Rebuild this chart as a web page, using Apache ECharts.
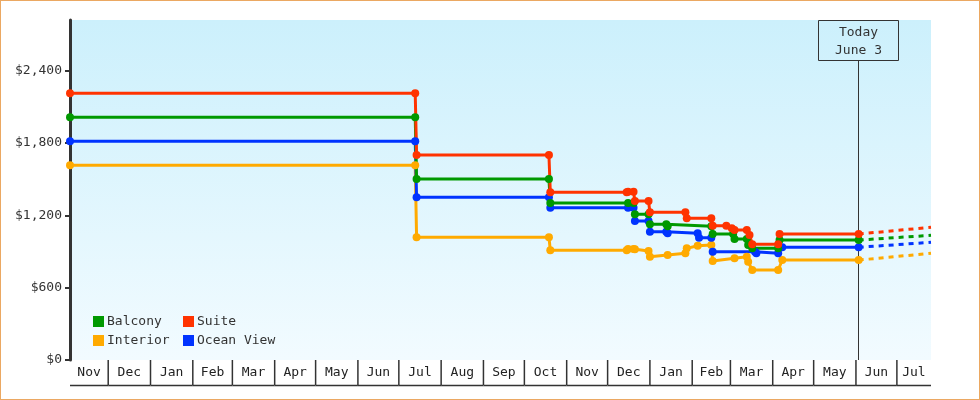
<!DOCTYPE html>
<html><head><meta charset="utf-8">
<script src="https://cdn.jsdelivr.net/npm/echarts@6/dist/echarts.min.js"></script>
<style>
html,body{margin:0;padding:0;background:#fff;}
#wrap{position:relative;width:980px;height:400px;}
#chart{width:980px;height:400px;}
#frame{position:absolute;left:0;top:0;width:980px;height:400px;box-sizing:border-box;border:1px solid #eba862;pointer-events:none;}
</style></head><body>
<div id="wrap"><div id="chart"></div><div id="frame"></div></div>
<script>
// ---------- data ----------
const axisStart = '2011-11-03';
const axisEnd = '2013-07-26';
const todayDate = '2013-06-03';
const todayLabel = 'Today\nJune 3';
const monthLabels = ['Nov','Dec','Jan','Feb','Mar','Apr','May','Jun','Jul','Aug','Sep','Oct','Nov','Dec','Jan','Feb','Mar','Apr','May','Jun','Jul'];
const monthStarts = ['2011-11-03','2011-12-01','2012-01-01','2012-02-01','2012-03-01','2012-04-01','2012-05-01','2012-06-01','2012-07-01','2012-08-01','2012-09-01','2012-10-01','2012-11-01','2012-12-01','2013-01-01','2013-02-01','2013-03-01','2013-04-01','2013-05-01','2013-06-01','2013-07-01'];
const yTicks = [0, 600, 1200, 1800, 2400];
const yMax = 2820;

const suitePrices = [
  ['2011-11-03',2212],['2012-07-13',2212],['2012-07-14',1700],['2012-10-19',1700],['2012-10-20',1391],
  ['2012-12-15',1391],['2012-12-16',1396],['2012-12-20',1396],['2012-12-21',1319],['2012-12-31',1319],
  ['2013-01-01',1225],['2013-01-27',1225],['2013-01-28',1175],['2013-02-15',1175],['2013-02-16',1114],
  ['2013-02-26',1114],['2013-03-02',1092],['2013-03-04',1078],['2013-03-13',1078],['2013-03-15',1037],
  ['2013-03-17',960],['2013-04-05',960],['2013-04-06',1045],['2013-06-03',1045]
];
const balconyPrices = [
  ['2011-11-03',2013],['2012-07-13',2013],['2012-07-14',1501],['2012-10-19',1501],['2012-10-20',1303],
  ['2012-12-16',1303],['2012-12-20',1303],['2012-12-21',1208],['2012-12-31',1208],['2013-01-01',1125],
  ['2013-01-13',1125],['2013-01-14',1110],['2013-02-15',1110],['2013-02-16',1045],['2013-03-03',1045],
  ['2013-03-04',1004],['2013-03-13',1004],['2013-03-14',954],['2013-03-17',926],['2013-04-05',926],
  ['2013-04-06',995],['2013-06-03',995]
];
const oceanViewPrices = [
  ['2011-11-03',1814],['2012-07-13',1814],['2012-07-14',1349],['2012-10-19',1349],['2012-10-20',1263],
  ['2012-12-16',1263],['2012-12-20',1263],['2012-12-21',1153],['2012-12-31',1153],['2013-01-01',1064],
  ['2013-01-13',1064],['2013-01-14',1051],['2013-02-05',1051],['2013-02-06',1014],['2013-02-15',1014],
  ['2013-02-16',898],['2013-03-19',898],['2013-03-20',885],['2013-04-05',885],['2013-04-08',935],
  ['2013-06-03',935]
];
const interiorPrices = [
  ['2011-11-03',1615],['2012-07-13',1615],['2012-07-14',1018],['2012-10-19',1018],['2012-10-20',910],
  ['2012-12-15',910],['2012-12-16',921],['2012-12-20',921],['2012-12-21',918],['2012-12-31',904],
  ['2013-01-01',857],['2013-01-14',871],['2013-01-27',885],['2013-01-28',926],['2013-02-05',948],
  ['2013-02-15',954],['2013-02-16',821],['2013-03-04',844],['2013-03-13',857],['2013-03-14',815],
  ['2013-03-17',746],['2013-04-05',746],['2013-04-08',829],['2013-06-03',829]
];
const forecastEndDate = '2013-07-26';
const suiteForecastEnd = 1101;
const balconyForecastEnd = 1034;
const oceanViewForecastEnd = 976;
const interiorForecastEnd = 885;

// ---------- chart ----------
const FONT = '"DejaVu Sans Mono", monospace';
const ts = s => { const p = s.split('-').map(Number); return new Date(p[0], p[1]-1, p[2]).getTime(); };
const toSeries = arr => arr.map(d => [ts(d[0]), d[1]]);
const colors = {Balcony:'#009900', Suite:'#ff3300', 'Ocean View':'#0033ff', Interior:'#ffaa00'};

const priceSeries = [
  ['Interior', interiorPrices, interiorForecastEnd],
  ['Ocean View', oceanViewPrices, oceanViewForecastEnd],
  ['Balcony', balconyPrices, balconyForecastEnd],
  ['Suite', suitePrices, suiteForecastEnd]
];

const series = [];
priceSeries.forEach(([name, arr, fEnd]) => {
  const last = arr[arr.length-1];
  series.push({
    name: 'fc-' + name, type: 'line', silent: true,
    data: [[ts(last[0]), last[1]], [ts(forecastEndDate), fEnd]],
    symbol: 'none', color: colors[name], z: 2,
    lineStyle: {width: 3, type: [5,5], dashOffset: 0, color: colors[name]}
  });
});
priceSeries.forEach(([name, arr]) => {
  series.push({
    name, type: 'line', data: toSeries(arr), color: colors[name],
    symbol: 'circle', symbolSize: 8, showSymbol: true, z: 3,
    lineStyle: {width: 3, color: colors[name]},
    itemStyle: {color: colors[name]}
  });
});

const monthTs = monthStarts.map(ts);
const endTs = ts(axisEnd);
series.push({
  type: 'custom', silent: true, clip: false, z: 1,
  data: monthTs.map((t, i) => [t, 0, i]),
  encode: {x: 0, y: 1},
  renderItem(params, api) {
    const i = api.value(2);
    const p0 = api.coord([api.value(0), 0]);
    const t1 = i + 1 < monthTs.length ? monthTs[i+1] : endTs;
    const p1 = api.coord([t1, 0]);
    const y0 = p0[1], h = 25;
    const children = [
      {type:'line', shape:{x1:p0[0], y1:y0+h+0.5, x2:p1[0], y2:y0+h+0.5}, style:{stroke:'#333', lineWidth:1.5}},
      {type:'text', style:{text: monthLabels[i], x:(p0[0]+p1[0])/2, y:y0+13, textAlign:'center', textVerticalAlign:'middle', font:'13px ' + FONT, fill:'#222'}}
    ];
    if (i + 1 < monthTs.length) {
      children.push({type:'line', shape:{x1:p1[0], y1:y0, x2:p1[0], y2:y0+h}, style:{stroke:'#333', lineWidth:1.5}});
    }
    return {type:'group', children};
  }
});
series.push({
  type: 'custom', silent: true, clip: false, z: 1,
  data: [[ts(todayDate), 0]],
  encode: {x: 0, y: 1},
  renderItem(params, api) {
    const p = api.coord([api.value(0), 0]);
    const top = params.coordSys.y;
    const x = Math.floor(p[0]) + 0.5;
    return {type:'group', children:[
      {type:'line', shape:{x1:x, y1:top+40, x2:x, y2:p[1]}, style:{stroke:'#333', lineWidth:1}},
      {type:'rect', shape:{x:x-40, y:top+0.5, width:80, height:40}, style:{fill:'none', stroke:'#333', lineWidth:1}},
      {type:'text', style:{text: todayLabel, x:x, y:top+22, textAlign:'center', textVerticalAlign:'middle', font:'13px ' + FONT, fill:'#333', lineHeight:18}}
    ]};
  }
});

const legendCommon = {
  orient:'vertical', icon:'rect', itemWidth:11, itemHeight:11, itemGap:6, selectedMode:false,
  textStyle:{fontFamily:FONT, fontSize:13, color:'#333', padding:[0,0,0,-2]}
};

const chart = echarts.init(document.getElementById('chart'), null, {renderer:'canvas'});
chart.setOption({
  animation: false,
  backgroundColor: '#fff',
  grid: {left:70, right:49, top:20, bottom:40, show:true, borderWidth:0,
    backgroundColor: new echarts.graphic.LinearGradient(0,0,0,1,[{offset:0,color:'#ccf0fc'},{offset:1,color:'#f2fbff'}])},
  legend: [
    Object.assign({data:['Balcony','Interior'], left:88, top:310}, legendCommon),
    Object.assign({data:['Suite','Ocean View'], left:178, top:310}, legendCommon)
  ],
  xAxis: {type:'time', min: ts(axisStart), max: ts(axisEnd),
    axisLine:{show:false}, axisTick:{show:false}, axisLabel:{show:false}, splitLine:{show:false}},
  yAxis: {type:'value', min:0, max:yMax, interval:600,
    axisLine:{show:true, lineStyle:{color:'#333', width:3}},
    axisTick:{show:true, length:5, customValues: yTicks, lineStyle:{color:'#333', width:2}},
    axisLabel:{customValues: yTicks, fontFamily:FONT, fontSize:13, color:'#333', margin:8,
      formatter: v => '$' + Number(v).toLocaleString('en-US')},
    splitLine:{show:false}},
  series
});
</script>
</body></html>
